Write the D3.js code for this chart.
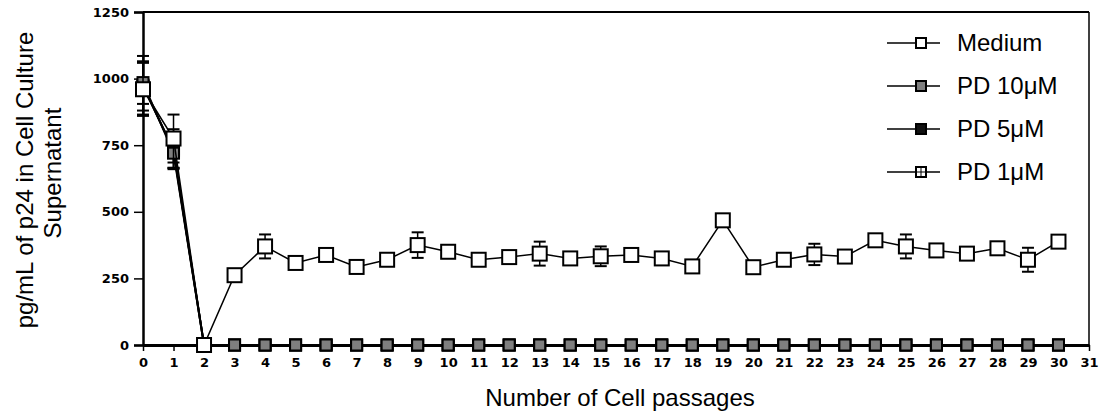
<!DOCTYPE html>
<html>
<head>
<meta charset="utf-8">
<title>p24 passages</title>
<style>
  body { margin: 0; padding: 0; background: #fff; }
  svg { display: block; }
  .tick text { font-family: "DejaVu Sans", sans-serif; font-weight: bold; font-size: 13px; fill: #000; }
  .title { font-family: "Liberation Sans", Arial, sans-serif; font-size: 24px; fill: #000; }
  .legend text { font-family: "Liberation Sans", Arial, sans-serif; font-size: 24px; fill: #000; }
</style>
</head>
<body>
<svg width="1099" height="413"></svg>
<script src="https://d3js.org/d3.v7.min.js"></script>
<script>
// passages 0..30
var passages = d3.range(0, 31);

var medium = [960, 775, 0, 262, 370, 308, 338, 293, 320, 375, 350, 320, 330, 343, 325, 333,
              338, 325, 295, 468, 292, 320, 340, 332, 393, 370, 355, 343, 363, 320, 388];
var mediumErr = [100, 90, 0, 0, 45, 0, 0, 0, 0, 48, 0, 0, 0, 45, 0, 37,
                 0, 0, 0, 0, 0, 0, 40, 0, 0, 45, 0, 0, 0, 45, 0];

// the PD series drop to zero after passage 1
var pd10 = [985, 720].concat(d3.range(29).map(function() { return 0; }));
var pd5 = [975, 730].concat(d3.range(29).map(function() { return 0; }));
var pd1 = [970, 735].concat(d3.range(29).map(function() { return 0; }));
var pd10Err = [80, 55];
var pd5Err = [110, 65];
var pd1Err = [90, 75];

var yTicks = [0, 250, 500, 750, 1000, 1250];
var seriesNames = ["Medium", "PD 10μM", "PD 5μM", "PD 1μM"];

var svg = d3.select("svg");

var x = d3.scaleLinear().domain([0, 31]).range([143, 1089]);
var y = d3.scaleLinear().domain([0, 1250]).range([345, 12]);

// frame: top and right
svg.append("line").attr("x1", x(0)).attr("x2", x(31)).attr("y1", y(1250)).attr("y2", y(1250))
  .attr("stroke", "#000").attr("stroke-width", 2);
svg.append("line").attr("x1", x(31)).attr("x2", x(31)).attr("y1", y(1250)).attr("y2", y(0))
  .attr("stroke", "#000").attr("stroke-width", 1.5);

// axes
var yAxis = d3.axisLeft(y).tickValues(yTicks).tickSize(9).tickPadding(5).tickFormat(d3.format("d"));
var gy = svg.append("g").attr("transform", "translate(" + x(0) + ",0)").call(yAxis);
gy.select(".domain").attr("stroke-width", 2.5);
gy.selectAll(".tick line").attr("stroke-width", 1.5);

var xAxis = d3.axisBottom(x).tickValues(d3.range(0, 32)).tickSize(6).tickPadding(5).tickSizeOuter(0);
var gx = svg.append("g").attr("transform", "translate(0," + y(0) + ")").call(xAxis);
gx.select(".domain").attr("stroke-width", 3);
gx.selectAll(".tick line").attr("stroke-width", 1.5);
gx.selectAll(".tick text").attr("dy", "0.85em");

// titles
svg.append("text").attr("class", "title")
  .attr("transform", "translate(33,180) rotate(-90)")
  .attr("text-anchor", "middle")
  .text("pg/mL of p24 in Cell Culture");
svg.append("text").attr("class", "title")
  .attr("transform", "translate(61,173) rotate(-90)")
  .attr("text-anchor", "middle")
  .text("Supernatant");
svg.append("text").attr("class", "title")
  .attr("x", 620).attr("y", 406)
  .attr("text-anchor", "middle")
  .text("Number of Cell passages");

var line = d3.line()
  .x(function(d, i) { return x(passages[i]); })
  .y(function(d) { return y(d); });

function errorBars(values, errs, width) {
  var g = svg.append("g").attr("stroke", "#000").attr("stroke-width", 1.5);
  errs.forEach(function(e, i) {
    if (!e) return;
    var cx = x(passages[i]);
    g.append("line").attr("x1", cx).attr("x2", cx)
      .attr("y1", y(values[i] + e)).attr("y2", y(values[i] - e));
    [values[i] + e, values[i] - e].forEach(function(v) {
      g.append("line").attr("x1", cx - width / 2).attr("x2", cx + width / 2)
        .attr("y1", y(v)).attr("y2", y(v)).attr("stroke-width", 2);
    });
  });
}

function drawSeries(values, errs, fill, size, lw, marker) {
  errorBars(values, errs, 12);
  svg.append("path").datum(values)
    .attr("d", line).attr("fill", "none")
    .attr("stroke", "#000").attr("stroke-width", lw);
  var g = svg.append("g");
  values.forEach(function(v, i) {
    drawMarker(g, x(passages[i]), y(v), size, fill, marker);
  });
}

function drawMarker(g, cx, cy, size, fill, marker) {
  g.append("rect")
    .attr("x", cx - size / 2).attr("y", cy - size / 2)
    .attr("width", size).attr("height", size)
    .attr("fill", fill).attr("stroke", "#000").attr("stroke-width", 2);
  if (marker === "cross") {
    g.append("line").attr("x1", cx).attr("x2", cx).attr("y1", cy - size / 2).attr("y2", cy + size / 2)
      .attr("stroke", "#000").attr("stroke-width", 1);
    g.append("line").attr("x1", cx - size / 2).attr("x2", cx + size / 2).attr("y1", cy).attr("y2", cy)
      .attr("stroke", "#000").attr("stroke-width", 1);
  }
}

drawSeries(pd1, pd1Err, "#fff", 11, 2, "cross");
drawSeries(pd5, pd5Err, "#111", 11, 2, "plain");
drawSeries(pd10, pd10Err, "#7f7f7f", 11, 2, "plain");
drawSeries(medium, mediumErr, "#fff", 14, 1.5, "plain");

// legend
var legFills = ["#fff", "#7f7f7f", "#111", "#fff"];
var legMarks = ["plain", "plain", "plain", "cross"];
var legY = [43, 86, 129, 172];
var legend = svg.append("g").attr("class", "legend");
seriesNames.forEach(function(name, i) {
  legend.append("line").attr("x1", 887).attr("x2", 940)
    .attr("y1", legY[i]).attr("y2", legY[i])
    .attr("stroke", "#000").attr("stroke-width", 1.5);
  drawMarker(legend, 921, legY[i], 10, legFills[i], legMarks[i]);
  legend.append("text").attr("x", 957).attr("y", legY[i]).attr("dy", "0.35em").text(name);
});
</script>
</body>
</html>
